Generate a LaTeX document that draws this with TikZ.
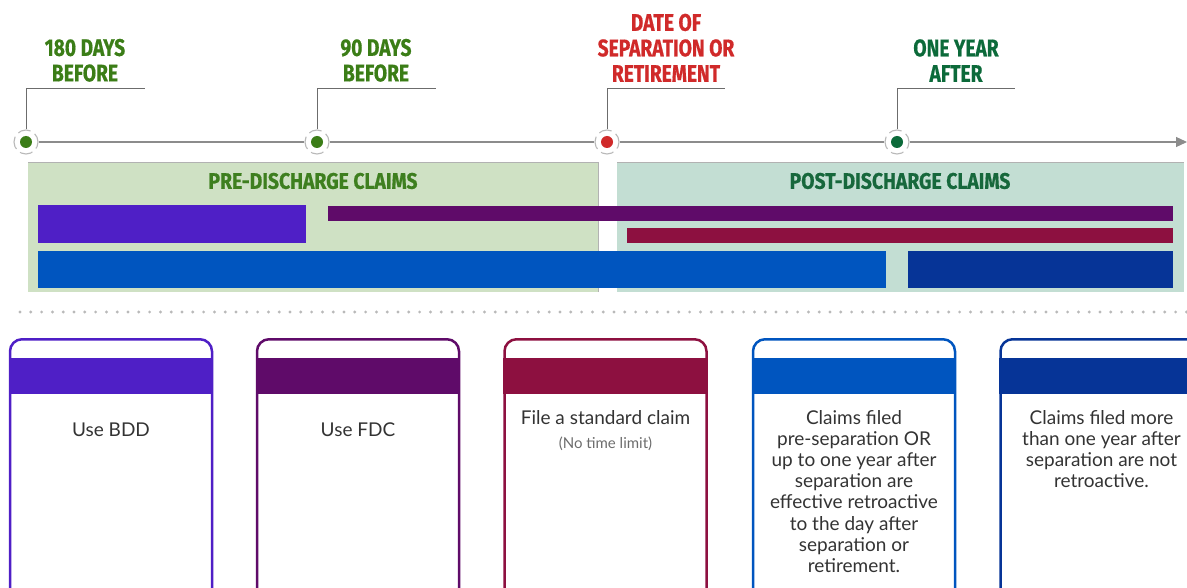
\documentclass[tikz,border=0pt]{standalone}
\usepackage{fontspec}
\setmainfont{Lato}
\newfontfamily\condfont[FakeStretch=0.8, FakeBold=0.6]{Fira Sans}
\newfontfamily\headfont[FakeStretch=0.86, FakeBold=0.6]{Fira Sans}
\usetikzlibrary{positioning,arrows.meta}

\definecolor{dayGreen}{HTML}{3B7D17}
\definecolor{sepRed}{HTML}{D02A2A}
\definecolor{yearGreen}{HTML}{0C6A3A}
\definecolor{preFill}{HTML}{CFE1C4}
\definecolor{postFill}{HTML}{C3DED3}
\definecolor{preHead}{HTML}{3E7F1F}
\definecolor{postHead}{HTML}{17683C}
\definecolor{bddCol}{HTML}{4F1FC6}
\definecolor{fdcCol}{HTML}{5F0B69}
\definecolor{stdCol}{HTML}{8D1040}
\definecolor{retroCol}{HTML}{0055BF}
\definecolor{lateCol}{HTML}{063497}
\definecolor{axisGray}{HTML}{8C8C8C}
\definecolor{cardText}{HTML}{333333}

\tikzset{
  tickdot/.style={circle, minimum size=24pt, inner sep=0pt, fill=white,
    draw=gray!55, line width=1.1pt, dash pattern=on 13pt off 5pt, dash phase=4pt,
    path picture={\fill[#1] (path picture bounding box.center) circle (6pt);}},
  leader/.style={draw=gray!85!black, line width=0.9pt},
  daylabel/.style={font=\condfont\bfseries\fontsize{24}{25.5}\selectfont, align=center, inner sep=0pt, anchor=south},
  panelhead/.style={font=\headfont\bfseries\fontsize{22.5}{24}\selectfont, inner sep=0pt},
  card/.style={draw=#1, line width=2.5pt, rounded corners=12pt, minimum width=202pt,
    minimum height=280pt, anchor=north, inner sep=0pt},
  cardtxt/.style={font=\fontsize{19}{21.2}\selectfont, text=cardText, align=center, inner sep=0pt},
  notetxt/.style={font=\fontsize{15}{17}\selectfont, text=gray!85!black, inner sep=0pt}
}

\begin{document}
\begin{tikzpicture}[x=1pt, y=-1pt]
\useasboundingbox (0,0) rectangle (1187,588);
\clip (0,0) rectangle (1187,588);

\fill[preFill] (28,162) rectangle (598,292);
\fill[postFill] (617,162) rectangle (1184,292);
\draw[gray!60, line width=0.6pt] (28,162) -- (598,162) -- (598,292);
\draw[gray!60, line width=0.6pt] (617,162) -- (1184,162);
\node[panelhead, text=preHead] (hPre) at (313,181) {PRE-DISCHARGE CLAIMS};
\node[panelhead, text=postHead] (hPost) at (900,181) {POST-DISCHARGE CLAIMS};

\fill[bddCol] (38,205) rectangle (306,243);
\fill[fdcCol] (328,206) rectangle (1173,221);
\fill[stdCol] (627,228) rectangle (1173,243);
\fill[retroCol] (38,251) rectangle (886,288);
\fill[lateCol] (908,251) rectangle (1173,288);

\node[tickdot=dayGreen] (d180) at (26,142) {};
\node[tickdot=dayGreen] (d90) at (317,142) {};
\node[tickdot=sepRed] (dSep) at (607,142) {};
\node[tickdot=yearGreen] (dYear) at (897,142) {};
\coordinate (tEnd) at (1187,142);
\draw[axisGray, line width=1.2pt] (d180) -- (d90) -- (dSep) -- (dYear);
\draw[axisGray, line width=1.2pt, -{Triangle[length=11pt,width=10pt]}] (dYear) -- (tEnd);

\coordinate (l180) at (145,88);
\coordinate (l90) at (436,88);
\coordinate (lSep) at (725,88);
\coordinate (lYear) at (1015,88);
\draw[leader] (d180) |- (l180);
\draw[leader] (d90) |- (l90);
\draw[leader] (dSep) |- (lSep);
\draw[leader] (dYear) |- (lYear);

\node[daylabel, text=dayGreen] (t180) at (85,82) {180 DAYS\\BEFORE};
\node[daylabel, text=dayGreen] (t90) at (376,82) {90 DAYS\\BEFORE};
\node[daylabel, text=sepRed] (tSep) at (666,82) {DATE OF\\SEPARATION OR\\RETIREMENT};
\node[daylabel, text=yearGreen] (tYear) at (956,82) {ONE YEAR\\AFTER};

\foreach \i in {0,...,108}
  \fill[gray!55] (20+\i*10.8,312) circle (1.6pt);

\node[card=bddCol] (cBDD) at (111,338) {};
\node[card=fdcCol] (cFDC) at (358,338) {};
\node[card=stdCol] (cSTD) at (605.5,338) {};
\node[card=retroCol] (cRetro) at (854,338) {};
\node[card=lateCol] (cLate) at (1101.5,338) {};
\fill[bddCol] ([yshift=-20pt]cBDD.north west) rectangle ([yshift=-56pt]cBDD.north east);
\fill[fdcCol] ([yshift=-20pt]cFDC.north west) rectangle ([yshift=-56pt]cFDC.north east);
\fill[stdCol] ([yshift=-20pt]cSTD.north west) rectangle ([yshift=-56pt]cSTD.north east);
\fill[retroCol] ([yshift=-20pt]cRetro.north west) rectangle ([yshift=-56pt]cRetro.north east);
\fill[lateCol] ([yshift=-20pt]cLate.north west) rectangle ([yshift=-56pt]cLate.north east);

\node[cardtxt] (tBDD) at (111,430) {Use BDD};
\node[cardtxt] (tFDC) at (358,430) {Use FDC};
\node[cardtxt, anchor=north] (tSTD) at (605.5,410) {File a standard claim};
\node[notetxt, below=12pt of tSTD] (nSTD) {(No time limit)};
\node[cardtxt, anchor=north] (tRetro) at (854,410) {Claims filed\\pre-separation OR\\up to one year after\\separation are\\effective retroactive\\to the day after\\separation or\\retirement.};
\node[cardtxt, anchor=north] (tLate) at (1101.5,410) {Claims filed more\\than one year after\\separation are not\\retroactive.};
\end{tikzpicture}
\end{document}
